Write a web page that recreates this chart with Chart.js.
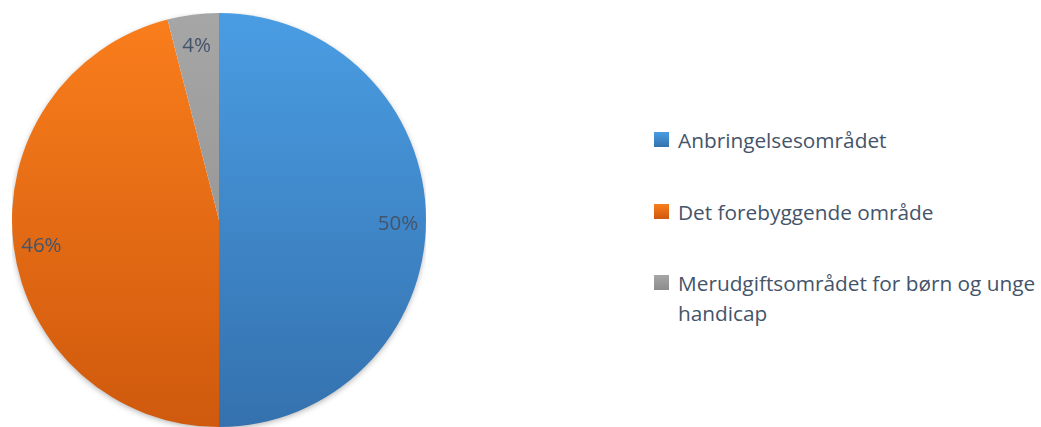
<!DOCTYPE html>
<html>
<head>
<meta charset="utf-8">
<script src="https://cdn.jsdelivr.net/npm/chart.js@4"></script>
<style>
  body { margin: 0; background: #fff; width: 1041px; height: 427px; overflow: hidden; position: relative;
         font-family: 'Open Sans', sans-serif; color: #44546a; }
  #pieBox { position: absolute; left: 12px; top: 13px; width: 414px; height: 414px; }
  .item { position: absolute; left: 654px; font-size: 20.8px; line-height: 30px; padding-left: 24px; white-space: nowrap; }
  .swatch { position: absolute; left: 0; top: 7px; width: 15px; height: 15px; }
</style>
</head>
<body>
<div id="pieBox"><canvas id="pie"></canvas></div>
<div id="legend"></div>
<script>
// data
const labels = ['Anbringelsesområdet', 'Det forebyggende område', 'Merudgiftsområdet for børn og unge handicap'];
const legendLines = [['Anbringelsesområdet'], ['Det forebyggende område'], ['Merudgiftsområdet for børn og unge', 'handicap']];
const values = [50, 46, 4];
const pctLabels = ['50%', '46%', '4%'];

// colours (top, bottom of the gradient)
const colorTop = ['#4a9de3', '#fa7e1c', '#a6a6a6'];
const colorBottom = ['#3471ae', '#cf590d', '#8c8c8c'];

// legend rows, top of each row
const legendTops = [125, 197, 268];

const legend = document.getElementById('legend');
legendLines.forEach((lines, i) => {
    const div = document.createElement('div');
    div.className = 'item';
    div.style.top = legendTops[i] + 'px';
    div.innerHTML = `<span class="swatch" style="background:linear-gradient(${colorTop[i]},${colorBottom[i]})"></span>` + lines.join('<br>');
    legend.appendChild(div);
});

function sliceFill(context) {
    const chart = context.chart;
    const area = chart.chartArea;
    const i = context.dataIndex;
    if (!area) return colorTop[i];
    const g = chart.ctx.createLinearGradient(0, area.top, 0, area.bottom);
    g.addColorStop(0, colorTop[i]);
    g.addColorStop(1, colorBottom[i]);
    return g;
}

// soft shadow behind the pie
const shadowPlugin = {
    id: 'pieShadow',
    beforeDatasetsDraw(chart) {
        const arc = chart.getDatasetMeta(0).data[0];
        if (!arc) return;
        const ctx = chart.ctx;
        ctx.save();
        ctx.shadowColor = 'rgba(0,0,0,0.35)';
        ctx.shadowBlur = 6;
        ctx.shadowOffsetY = 2;
        ctx.fillStyle = '#fff';
        ctx.beginPath();
        ctx.arc(arc.x, arc.y, arc.outerRadius - 1, 0, Math.PI * 2);
        ctx.fill();
        ctx.restore();
    }
};

// percentage labels near the outer edge
const labelPlugin = {
    id: 'pctLabels',
    afterDatasetsDraw(chart) {
        const ctx = chart.ctx;
        ctx.save();
        ctx.font = '20.5px "Open Sans", sans-serif';
        ctx.fillStyle = '#44546a';
        ctx.textAlign = 'center';
        ctx.textBaseline = 'middle';
        chart.getDatasetMeta(0).data.forEach((arc, i) => {
            const mid = (arc.startAngle + arc.endAngle) / 2;
            const r = arc.outerRadius * 0.865;
            ctx.fillText(pctLabels[i], arc.x + Math.cos(mid) * r, arc.y + Math.sin(mid) * r + 4);
        });
        ctx.restore();
    }
};

new Chart(document.getElementById('pie'), {
    type: 'pie',
    data: {
        labels: labels,
        datasets: [{
            data: values,
            backgroundColor: sliceFill,
            borderWidth: 0
        }]
    },
    options: {
        responsive: true,
        maintainAspectRatio: false,
        animation: false,
        layout: { padding: 0 },
        plugins: {
            legend: { display: false },
            tooltip: { enabled: false }
        }
    },
    plugins: [shadowPlugin, labelPlugin]
});
</script>
</body>
</html>
